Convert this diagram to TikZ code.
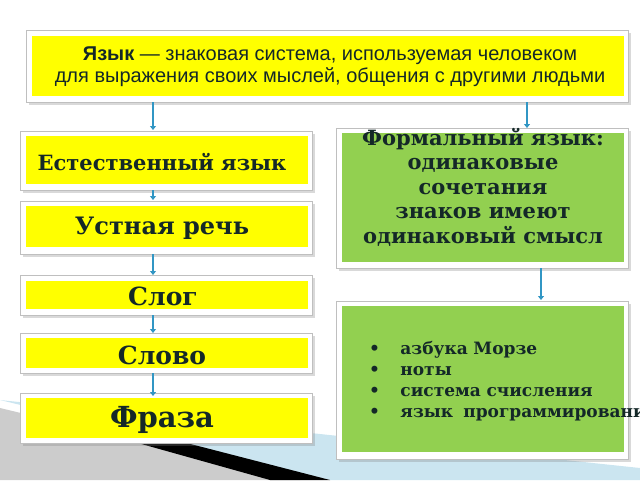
\documentclass[tikz,border=0pt]{standalone}
\usepackage{fontspec}
\setmainfont{DejaVu Serif}
\newfontfamily\topfont{Liberation Sans}
\usetikzlibrary{arrows.meta,shadows}
\definecolor{ylw}{RGB}{255,255,0}
\definecolor{grn}{RGB}{146,208,80}
\definecolor{arr}{RGB}{49,150,196}
\definecolor{txt}{RGB}{20,40,40}
\tikzset{
 frame/.style={fill=white,draw=black!25,line width=0.6pt,drop shadow={opacity=0.3}},
 ybox/.style={fill=ylw,draw=none,anchor=north west,inner sep=0pt},
 gbox/.style={fill=grn,draw=none,anchor=north west,inner sep=0pt},
 lbl/.style={text=txt,font=\bfseries,inner sep=0pt},
 conn/.style={draw=arr,line width=2pt,-{Triangle[length=4pt,width=6pt]}}
}
\begin{document}
\begin{tikzpicture}[x=1pt,y=-1pt]
\useasboundingbox (0,0) rectangle (640,480);
% decoration
\fill[black!20] (0,408) -- (300,480) -- (0,480) -- cycle;
\fill[arr!25] (0,400) -- (640,468) -- (640,480) -- (330,480) -- cycle;
\fill[black] (120,438) -- (175,440) -- (330,480) -- (270,480) -- cycle;
% frames
\foreach \a/\b/\c/\d in {26/30/628/102, 20/131/312/190, 336/128/628/268, 20/201/312/254, 20/275/312/315, 336/301/628/459, 20/333/312/373, 20/393/312/443}
 \filldraw[frame] (\a,\b) rectangle (\c,\d);
\node[ybox,minimum width=592pt,minimum height=60pt] (top) at (32,36) {};
\node[lbl,font=\topfont\fontsize{20}{22}\selectfont,align=center] (toptxt) at (330,67) {{\bfseries Язык} {\mdseries — знаковая  система, используемая человеком}\\\mdseries для выражения своих  мыслей, общения с другими людьми};
\node[ybox,minimum width=282pt,minimum height=48pt] (est) at (26,136) {};
\node[lbl,font=\bfseries\fontsize{21}{24}\selectfont] (esttxt) at (162,162) {Естественный язык};
\node[gbox,minimum width=282pt,minimum height=129pt] (form) at (342,133) {};
\node[lbl,font=\bfseries\fontsize{21}{24.5}\selectfont,align=center,anchor=north] (formtxt) at (483,128) {Формальный язык:\\одинаковые\\сочетания\\знаков имеют\\одинаковый смысл};
\node[ybox,minimum width=282pt,minimum height=41pt] (ust) at (26,206) {};
\node[lbl,font=\bfseries\fontsize{24}{28}\selectfont] (usttxt) at (162,228) {Устная речь};
\node[ybox,minimum width=282pt,minimum height=28pt] (slog) at (26,281) {};
\node[lbl,font=\bfseries\fontsize{25}{28}\selectfont] (slogtxt) at (163,296) {Слог};
\node[gbox,minimum width=282pt,minimum height=146pt] (ex) at (342,306) {};
\node[ybox,minimum width=282pt,minimum height=30pt] (slovo) at (26,338) {};
\node[lbl,font=\bfseries\fontsize{25}{28}\selectfont] (slovotxt) at (162,355) {Слово};
\node[ybox,minimum width=282pt,minimum height=40pt] (fraza) at (26,398) {};
\node[lbl,font=\bfseries\fontsize{29}{32}\selectfont] (frazatxt) at (162,420) {Фраза};
\begin{scope}
\clip (0,0) rectangle (640,480);
\node[anchor=north west,text=txt,font=\bfseries\fontsize{17}{21}\selectfont,align=left,text width=400pt,inner sep=0pt] (list) at (369,341)
 {\textbullet\hspace{1.2em}азбука Морзе\\ \textbullet\hspace{1.2em}ноты\\ \textbullet\hspace{1.2em}система счисления\\ \textbullet\hspace{1.2em}язык\hspace{0.6em}программирования};
\end{scope}
% arrows
\draw[conn] (153,102) -- (153,130);
\draw[conn] (527,102) -- (527,128);
\draw[conn] (153,190) -- (153,200);
\draw[conn] (153,254) -- (153,275);
\draw[conn] (153,315) -- (153,333);
\draw[conn] (153,373) -- (153,396);
\draw[conn] (541,268) -- (541,300);
\end{tikzpicture}
\end{document}
